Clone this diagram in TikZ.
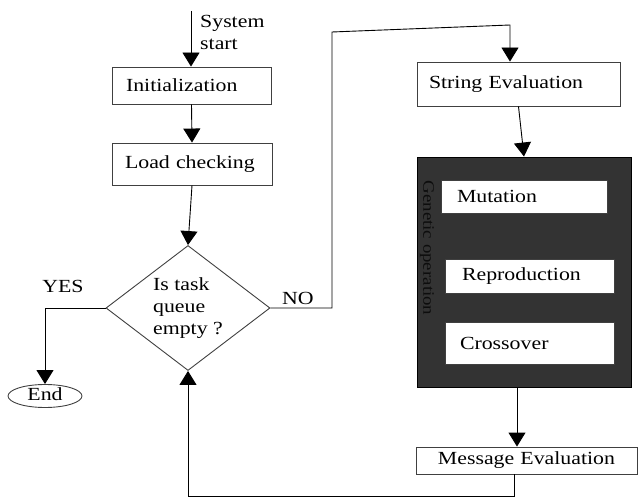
\documentclass[tikz,border=0pt]{standalone}
\usepackage{fontspec}
\setmainfont{Liberation Serif}[FakeStretch=1.18]
\usetikzlibrary{shapes.geometric,arrows.meta}
\definecolor{darkbg}{HTML}{333333}
\definecolor{darktext}{HTML}{0D0D0D}
\definecolor{boxline}{HTML}{404040}
\begin{document}
\begin{tikzpicture}[x=1pt,y=-1pt,
  every node/.style={font=\fontsize{18.5}{22}\selectfont},
  box/.style={draw=boxline,line width=0.9pt,fill=white,align=left,inner ysep=0pt,minimum height=#1},
  arr/.style={draw=black,line width=0.9pt,-{Triangle[length=14pt,width=17pt]}},
  conn/.style={draw=black,line width=0.9pt}]
\useasboundingbox (0,0) rectangle (638,497);
% left column
\node[box=37,text width=131,inner xsep=14pt] (init) at (191.5,85.5) {Initialization};
\node[box=42,text width=134,inner xsep=13pt] (load) at (192,164) {Load checking};
\node[draw=boxline,line width=0.9pt,shape=diamond,aspect=1.31,inner sep=0pt,
      minimum width=164,minimum height=125,align=left] (dia) at (188,308) {Is task\\queue\\empty ?};
\node[draw=boxline,line width=0.9pt,ellipse,inner sep=0pt,minimum width=74,minimum height=23,
      text height=9pt,text depth=0pt] (end) at (45,396) {End};
% right column
\node[box=44,text width=179,inner xsep=12pt] (strev) at (518.5,84) {String Evaluation};
\node[draw=black,line width=0.9pt,fill=darkbg,minimum width=214,minimum height=230,inner sep=0pt] (gen) at (524,272) {};
\node[box=33,text width=134,inner xsep=16pt] (mut) at (524,196.5) {Mutation};
\node[box=34,text width=135,inner xsep=17pt] (rep) at (529.5,276) {Reproduction};
\node[box=42,text width=139,inner xsep=15pt] (cross) at (529.5,343) {Crossover};
\node[text=darktext,rotate=-90,inner sep=0pt,font=\fontsize{16}{19}\selectfont] (genlbl) at (427,248) {Genetic operation};
\node[box=27,text width=221,inner xsep=0pt,align=center] (msg) at (526.5,460.5) {Message Evaluation};
% labels
\node[align=left,anchor=west,inner sep=0pt] (sys) at (200,32) {System\\start};
\node[inner sep=0pt] (yes) at (63,286.5) {YES};
\node[inner sep=0pt] (no) at (298,298.5) {NO};
% helper coordinates
\coordinate (s0) at (191,11);
\coordinate (n1) at (332,32);
\coordinate (n2) at (510,25);
\coordinate (b0) at (514,496);
% connectors
\draw[arr] (s0) -- (s0 |- init.north);
\draw[arr] (init.south) -- (load.north);
\draw[arr] (load.south) -- (dia.north);
\draw[arr] (dia.west) -| (end.north);
\draw[arr] (dia.east) -| (n1) -- (n2) -- (n2 |- strev.north);
\draw[arr] (strev.south) -- (gen.north);
\draw[arr] ([xshift=-7pt]gen.south) -- ([xshift=-7pt]gen.south |- msg.north);
\draw[arr] (b0 |- msg.south) -- (b0) -| (dia.south);
\end{tikzpicture}
\end{document}
